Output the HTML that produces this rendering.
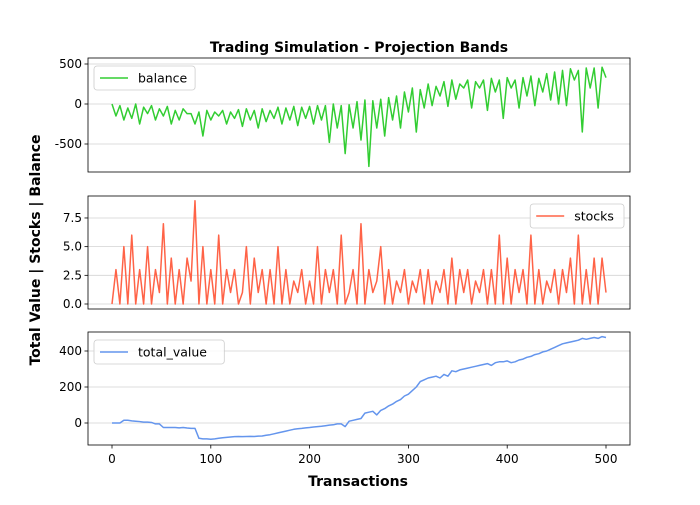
<!DOCTYPE html>
<html><head><meta charset="utf-8"><style>
body{margin:0;background:#fff}
svg{font-family:"DejaVu Sans","Liberation Sans",sans-serif}
</style></head><body>
<svg id="chart" width="700" height="500" viewBox="0 0 700 500" xmlns="http://www.w3.org/2000/svg">
<rect width="700" height="500" fill="#fff"/>
<text x="359" y="52" text-anchor="middle" font-size="14" font-weight="bold">Trading Simulation - Projection Bands</text>
<text transform="translate(40,250) rotate(-90)" text-anchor="middle" font-size="14" font-weight="bold">Total Value | Stocks | Balance</text>
<text x="358" y="486" text-anchor="middle" font-size="14" font-weight="bold">Transactions</text>
</svg>
<script>
const transactionStep = 4;
const balanceValues = [0,-150,-20,-200,-50,-180,0,-250,-40,-120,
-20,-200,-60,-150,-30,-250,-80,-200,-60,-120,
-120,-250,-100,-400,-80,-200,-100,-150,-80,-250,
-100,-180,-70,-280,-60,-200,-80,-300,-60,-220,
-80,-180,-40,-250,-50,-200,-30,-270,-40,-180,
-30,-250,-20,-200,-20,-480,0,-300,-20,-620,
-10,-300,30,-450,50,-780,40,-300,60,-400,
80,-200,100,-300,150,-100,200,-350,180,-50,
250,-20,220,100,280,-30,300,60,250,200,
300,-50,280,200,300,-80,320,150,300,-180,
330,200,300,-50,330,100,350,-20,320,150,
380,50,400,0,420,-20,440,300,420,-350,
450,200,450,-50,460,330];
const stockValues = [0,3,0,5,0,6,0,3,0,5,
0,3,1,7,0,4,0,3,0,4,
2,9,0,5,0,3,0,6,0,3,
1,3,0,1,5,0,4,1,3,0,
3,0,5,0,3,0,2,1,3,0,
2,0,5,0,3,1,3,0,6,0,
1,3,0,7,0,3,1,2,5,0,
3,0,2,1,3,0,2,1,3,0,
3,0,2,1,3,0,4,0,3,1,
3,0,2,1,3,0,3,0,6,0,
4,0,3,1,3,0,6,0,3,0,
2,1,3,0,3,1,4,0,6,0,
3,0,4,0,4,1];
const totalValues = [0,0,0,15,15,12,10,8,5,5,
3,-5,-5,-25,-25,-25,-25,-27,-25,-28,
-30,-30,-85,-88,-88,-90,-88,-85,-82,-80,
-78,-76,-75,-76,-75,-74,-75,-73,-72,-68,
-65,-60,-55,-50,-45,-40,-35,-32,-30,-27,
-25,-22,-20,-18,-15,-12,-10,-5,-5,-20,
10,15,20,25,55,60,65,45,70,80,
95,105,120,130,150,160,180,200,230,240,
250,255,260,250,270,260,290,285,295,300,
305,310,315,320,325,330,320,335,340,340,
345,335,340,350,355,365,370,380,385,395,
400,410,420,430,440,445,450,455,460,470,
465,470,475,470,480,475];
const xTicks = [0,100,200,300,400,500];
const balanceTicks = [-500,0,500];
const stockTicks = [0.0,2.5,5.0,7.5];
const stockTickLabels = ["0.0","2.5","5.0","7.5"];
const totalTicks = [0,200,400];

const NS="http://www.w3.org/2000/svg";
const svg=document.getElementById('chart');
const L=88,R=630;
const xs=v=>112+(v/500)*(606-112);
function mk(t,a){const e=document.createElementNS(NS,t);for(const k in a)e.setAttribute(k,a[k]);svg.appendChild(e);return e;}
function panel(name,top,bot,ys,ticks,labels,vals,color,legend,legRight,showX){
  for(let i=0;i<ticks.length;i++){
    const y=ys(ticks[i]);
    const g=mk('line',{x1:L,x2:R,y1:y,y2:y,stroke:'#d3d3d3','stroke-width':0.8});
    
    
    const tk=mk('line',{x1:L-3.5,x2:L,y1:y,y2:y,stroke:'#000','stroke-width':0.8});
    
    
    const t=mk('text',{x:L-6,y:y+4,'text-anchor':'end','font-size':12});
    
    
    t.textContent=labels[i];
  }
  let d='';
  vals.forEach((v,i)=>{d+=(i?'L':'M')+xs(i*transactionStep).toFixed(2)+','+ys(v).toFixed(2);});
  const p=mk('path',{d:d,fill:'none',stroke:color,'stroke-width':1.5,'stroke-linejoin':'round'});
  
  
  const fr=mk('rect',{x:L,y:top,width:R-L,height:bot-top,fill:'none',stroke:'#000','stroke-width':0.8});
  
  
  const w=legend.length*7.3+50;
  const lx=legRight?R-6-w:L+6, ly=top+8;
  const lb=mk('rect',{x:lx,y:ly,width:w,height:24,rx:3,fill:'#fff','fill-opacity':0.8,stroke:'#ccc','stroke-width':0.8});
  
  
  const ll=mk('line',{x1:lx+6,x2:lx+34,y1:ly+12,y2:ly+12,stroke:color,'stroke-width':1.5});
  
  
  const lt=mk('text',{x:lx+44,y:ly+16.5,'font-size':12.5});
  
  
  lt.textContent=legend;
  if(showX){
    xTicks.forEach(v=>{
      const tk=mk('line',{x1:xs(v),x2:xs(v),y1:bot,y2:bot+3.5,stroke:'#000','stroke-width':0.8});
      
      
      const t=mk('text',{x:xs(v),y:bot+18,'text-anchor':'middle','font-size':12});
      
      
      t.textContent=v;
    });
  }
}
panel('balance',58,172,v=>104-v*0.08,balanceTicks,balanceTicks.map(String),balanceValues,'#32cd32','balance',false,false);
panel('stocks',196,309,v=>304-v*11.47,stockTicks,stockTickLabels,stockValues,'#ff6347','stocks',true,false);
panel('total-value',332,445,v=>423-v*0.18,totalTicks,totalTicks.map(String),totalValues,'#6495ed','total_value',false,true);
</script>
</body></html>
